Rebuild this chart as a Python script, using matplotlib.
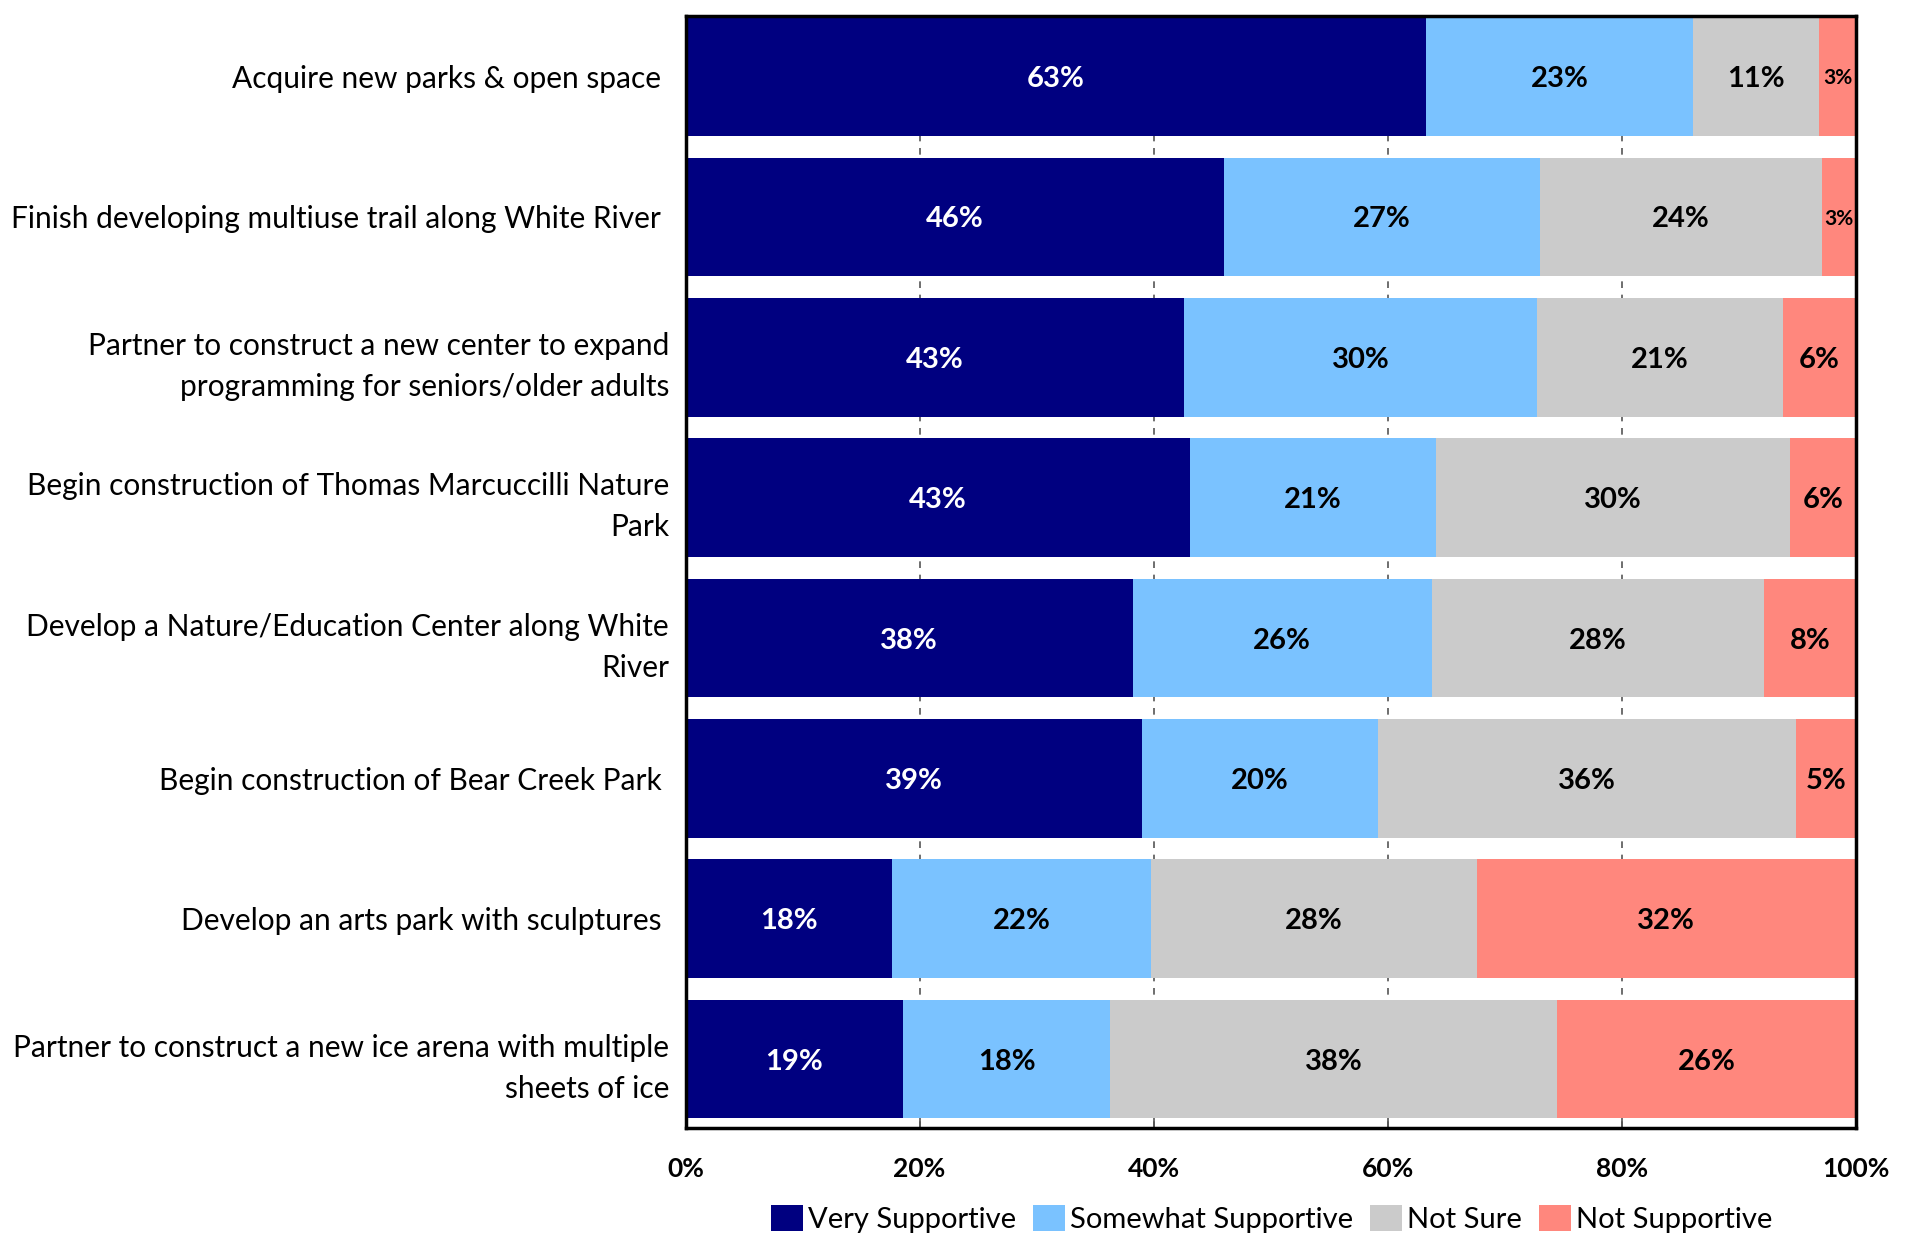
import matplotlib.pyplot as plt
import numpy as np

plt.rcParams['font.family'] = ['Lato', 'DejaVu Sans']

projects = [
    "Acquire new parks & open space ",
    "Finish developing multiuse trail along White River ",
    "Partner to construct a new center to expand\nprogramming for seniors/older adults",
    "Begin construction of Thomas Marcuccilli Nature\nPark",
    "Develop a Nature/Education Center along White\nRiver",
    "Begin construction of Bear Creek Park ",
    "Develop an arts park with sculptures ",
    "Partner to construct a new ice arena with multiple\nsheets of ice",
]

very_supportive = [63.3, 46.0, 42.6, 43.1, 38.2, 39.0, 17.6, 18.6]
somewhat_supportive = [22.8, 27.0, 30.2, 21.0, 25.6, 20.2, 22.2, 17.7]
not_sure = [10.8, 24.1, 21.0, 30.3, 28.4, 35.7, 27.8, 38.2]
not_supportive = [3.1, 2.9, 6.2, 5.6, 7.8, 5.1, 32.4, 25.5]

series = ["Very Supportive", "Somewhat Supportive", "Not Sure", "Not Supportive"]
colors = ["#000080", "#7AC2FF", "#CBCBCB", "#FF877D"]
text_colors = ["white", "black", "black", "black"]

fig = plt.figure(figsize=(19.15, 12.36), dpi=100)
ax = fig.add_axes([0.358, 0.0874, 0.611, 0.8996])

y = np.arange(len(projects))
left = np.zeros(len(projects))
for vals, name, col, tcol in zip([very_supportive, somewhat_supportive, not_sure, not_supportive],
                                 series, colors, text_colors):
    vals = np.array(vals)
    bars = ax.barh(y, vals, left=left, height=0.845, color=col, label=name, zorder=2)
    for b, v in zip(bars, vals):
        small = v < 4
        ax.text(b.get_x() + b.get_width() / 2, b.get_y() + b.get_height() / 2,
                f"{v:.0f}%", ha='center', va='center_baseline', color=tcol,
                fontsize=15 if small else 21, fontweight='bold', zorder=3)
    left += vals

ax.set_xlim(0, 100)
ax.set_ylim(7.49, -0.43)
ax.set_yticks(y)
ax.set_yticklabels(projects, fontsize=21.5, linespacing=1.58)
ax.tick_params(axis='y', length=0, pad=12)
ax.set_xticks([0, 20, 40, 60, 80, 100])
ax.set_xticklabels([f"{t}%" for t in [0, 20, 40, 60, 80, 100]], fontsize=19, fontweight='bold')
ax.tick_params(axis='x', direction='in', length=9, width=1.2, color='#555555', pad=21)
ax.grid(axis='x', color='#555555', linestyle=(0, (4, 4)), linewidth=1.2, zorder=1)
for s in ax.spines.values():
    s.set_linewidth(2.5)
    s.set_color('black')

fig.legend(loc='center', bbox_to_anchor=(0.664, 0.014), ncol=4, frameon=False,
           fontsize=21, handlelength=1.1, handleheight=1.0, handletextpad=0.15,
           columnspacing=0.6)

fig.savefig("out.png", dpi=100)
